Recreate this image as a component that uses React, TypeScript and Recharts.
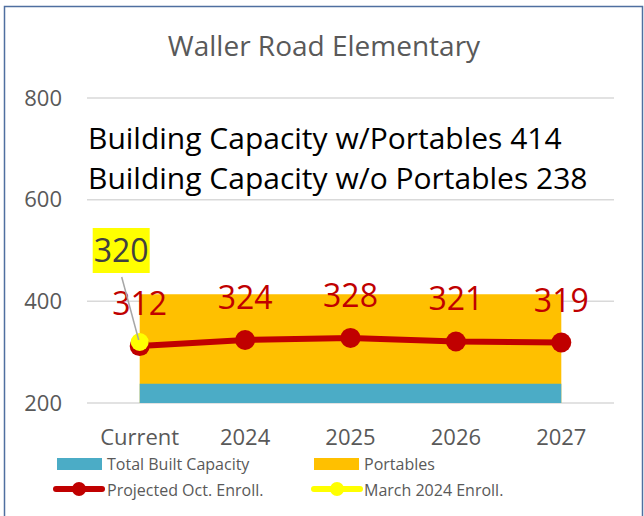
import React from 'react';
import { ComposedChart, Area, Line, XAxis, YAxis, CartesianGrid, LabelList } from 'recharts';

const categories = ['Current', '2024', '2025', '2026', '2027'];
const builtCapacity = [238, 238, 238, 238, 238];
const capacityWithPortables = [414, 414, 414, 414, 414];
const projectedEnrollment = [312, 324, 328, 321, 319];
const marchEnrollment: (number | null)[] = [320, null, null, null, null];
const yTicks = [200, 400, 600, 800];

const data = categories.map((name, i) => ({
  name,
  built: builtCapacity[i],
  portables: capacityWithPortables[i],
  projected: projectedEnrollment[i],
  march: marchEnrollment[i],
}));

const FONT = '"Open Sans", "Noto Sans", sans-serif';
const GRAY = '#595959';

function MarchLabel(props: any) {
  const { value, viewBox } = props;
  if (value == null) return null;
  const px = props.x ?? viewBox?.x;
  const py = props.y ?? viewBox?.y;
  return (
    <g>
      <line x1={px - 18} y1={py - 65} x2={px - 1} y2={py - 2} stroke="#a6a6a6" strokeWidth={1.5} />
      <rect x={px - 47} y={py - 114} width={57} height={45} fill="#ffff00" />
      <text x={px - 18.5} y={py - 80} textAnchor="middle" fontSize={32} fontFamily={FONT} fill="#404040">
        {value}
      </text>
    </g>
  );
}

function Overlay() {
  return (
    <svg width={644} height={516} style={{ position: 'absolute', left: 0, top: 0, pointerEvents: 'none' }}>
      <rect x={4.5} y={6.5} width={638} height={520} fill="none" stroke="#4f6fa0" strokeWidth={1.5} />
      <text x={324} y={56} textAnchor="middle" fontSize={28} fontFamily={FONT} fill={GRAY}>
        Waller Road Elementary
      </text>
      <text x={88} y={149} fontSize={30} fontFamily={FONT} fill="#000">
        Building Capacity w/Portables 414
      </text>
      <text x={88} y={189} fontSize={30} fontFamily={FONT} fill="#000">
        Building Capacity w/o Portables 238
      </text>
      {/* legend */}
      <g fontFamily={FONT} fontSize={16} fill={GRAY}>
        <rect x={57} y={458} width={45} height={12} fill="#4bacc6" />
        <text x={107} y={470}>Total Built Capacity</text>
        <rect x={314} y={458} width={45} height={12} fill="#ffc000" />
        <text x={364} y={470}>Portables</text>
        <line x1={56} y1={489} x2={102} y2={489} stroke="#c00000" strokeWidth={6} strokeLinecap="round" />
        <circle cx={79} cy={489} r={7} fill="#c00000" />
        <text x={107} y={496}>Projected Oct. Enroll.</text>
        <line x1={314} y1={489} x2={360} y2={489} stroke="#ffff00" strokeWidth={6} strokeLinecap="round" />
        <circle cx={337} cy={489} r={7} fill="#ffff00" />
        <text x={364} y={496}>March 2024 Enroll.</text>
      </g>
    </svg>
  );
}

export default function App() {
  return (
    <div style={{ position: 'absolute', left: 0, top: 0, width: 644, height: 516, background: '#fff', fontFamily: FONT }}>
      <ComposedChart width={644} height={516} data={data} margin={{ top: 98, right: 30, bottom: 73, left: 0 }}>
        <CartesianGrid vertical={false} stroke="#d9d9d9" strokeWidth={1.5} />
        <XAxis
          dataKey="name"
          scale="band"
          axisLine={false}
          tickLine={false}
          tickMargin={20}
          height={40}
          tick={{ fontSize: 22, fill: GRAY, fontFamily: FONT }}
        />
        <YAxis
          domain={[200, 800]}
          ticks={yTicks}
          axisLine={false}
          tickLine={false}
          tickMargin={19}
          width={87}
          tick={{ fontSize: 22, fill: GRAY, fontFamily: FONT }}
        />
        <Area type="linear" dataKey="portables" stroke="none" fill="#ffc000" fillOpacity={1} isAnimationActive={false} />
        <Area type="linear" dataKey="built" stroke="none" fill="#4bacc6" fillOpacity={1} isAnimationActive={false} />
        <Line
          type="linear"
          dataKey="projected"
          stroke="#c00000"
          strokeWidth={6}
          dot={{ r: 10, fill: '#c00000', stroke: 'none' }}
          isAnimationActive={false}
        >
          <LabelList dataKey="projected" position="top" offset={31} fill="#c00000" fontSize={32} fontFamily={FONT} />
        </Line>
        <Line
          type="linear"
          dataKey="march"
          stroke="#ffff00"
          strokeWidth={6}
          dot={{ r: 9, fill: '#ffff00', stroke: 'none' }}
          isAnimationActive={false}
        >
          <LabelList dataKey="march" content={<MarchLabel />} />
        </Line>
      </ComposedChart>
      <Overlay />
    </div>
  );
}
